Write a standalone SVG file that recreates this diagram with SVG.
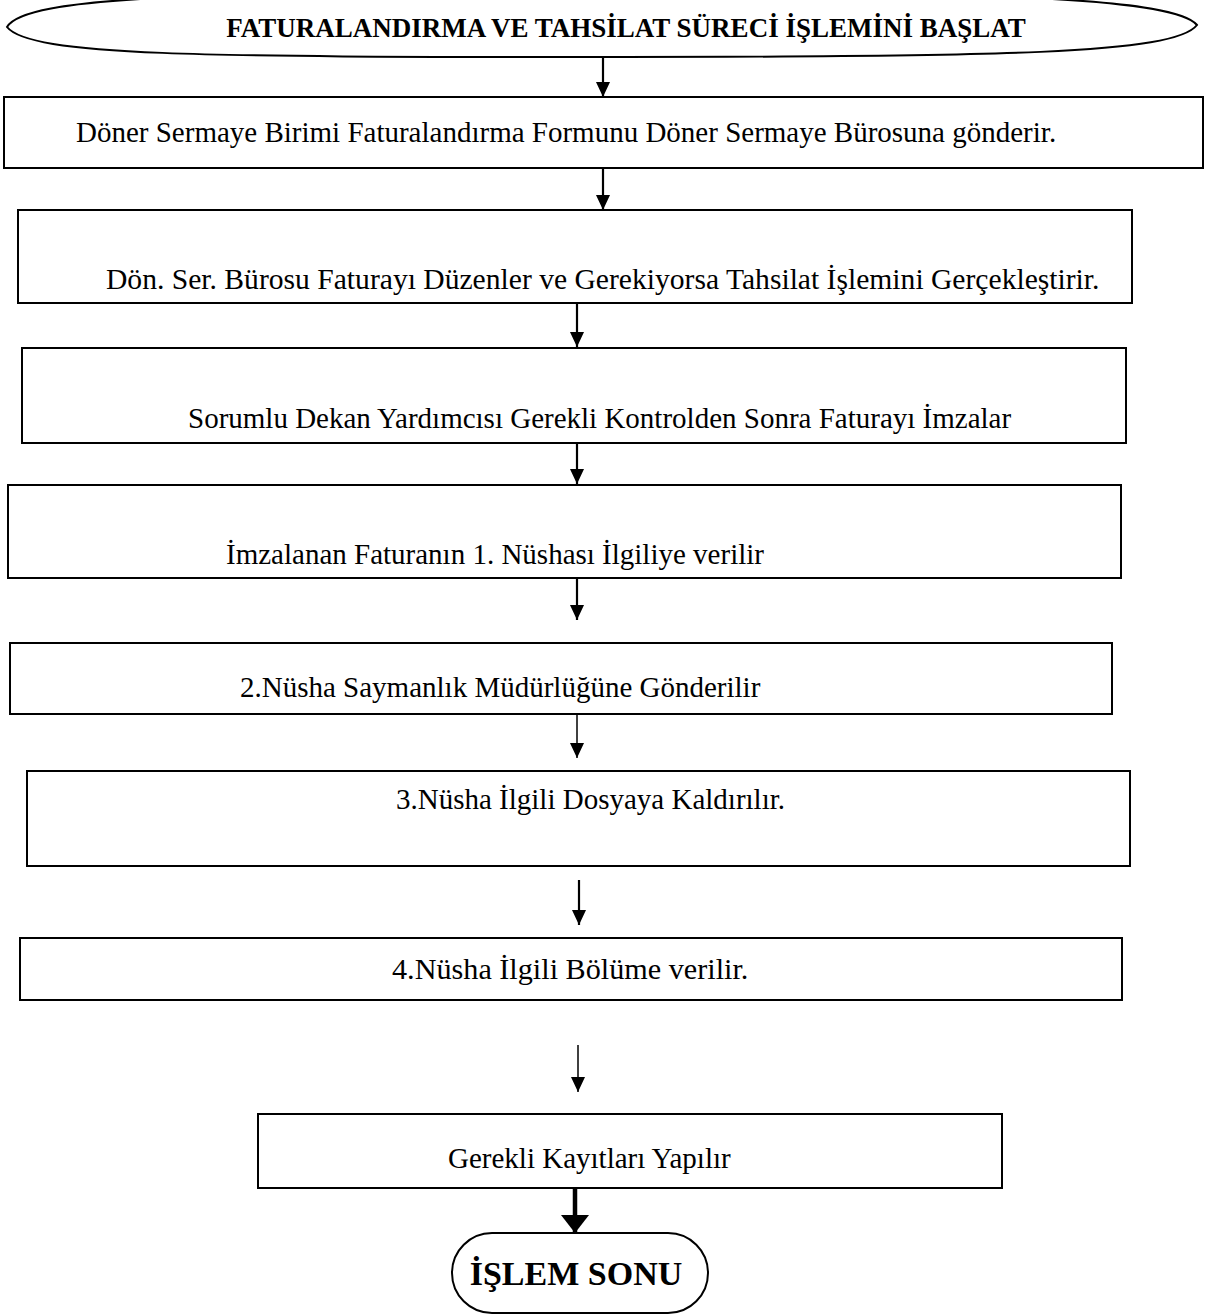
<svg xmlns="http://www.w3.org/2000/svg" width="1205" height="1315" viewBox="0 0 1205 1315">
  <style>
    .box { fill: #fff; stroke: #000; stroke-width: 2; }
    .txt { font-family: "Liberation Serif", "Times New Roman", serif; font-size: 29px; fill: #000; }
    .title { font-weight: bold; font-size: 27px; }
    .endtxt { font-weight: bold; font-size: 34px; }
    .ln { stroke: #000; stroke-width: 2.2; fill: none; }
    .thin { stroke-width: 1.5; }
    .thick { stroke-width: 4.5; }
  </style>
  <defs>
    <marker id="ah" viewBox="0 0 15 14" refX="15" refY="7" markerWidth="15" markerHeight="14" markerUnits="userSpaceOnUse" orient="auto">
      <path d="M0,0 L15,7 L0,14 Z" fill="#000"/>
    </marker>
    <marker id="ahBig" viewBox="0 0 18 28" refX="18" refY="14" markerWidth="18" markerHeight="28" markerUnits="userSpaceOnUse" orient="auto">
      <path d="M0,0 L18,14 L0,28 Z" fill="#000"/>
    </marker>
  </defs>

  <rect width="1205" height="1315" fill="#fff"/>

  <!-- start terminator: wide lens shape with pointed ends -->
  <g id="start">
    <path class="box" d="M7,27 C30,56 200,57 602,57 C1000,57 1175,54 1197,25 C1175,-2 1000,-8 602,-8 C200,-8 25,-4 7,27 Z"/>
    <text class="txt title" x="626" y="37" text-anchor="middle">FATURALANDIRMA VE TAHSİLAT SÜRECİ İŞLEMİNİ BAŞLAT</text>
  </g>

  <g id="step1">
    <rect class="box" x="4" y="97" width="1199" height="71"/>
    <text class="txt" x="76" y="142">Döner Sermaye Birimi Faturalandırma Formunu Döner Sermaye Bürosuna gönderir.</text>
  </g>

  <g id="step2">
    <rect class="box" x="18" y="210" width="1114" height="93"/>
    <text class="txt" x="106" y="289" style="font-size:29.6px">Dön. Ser. Bürosu Faturayı Düzenler ve Gerekiyorsa Tahsilat İşlemini Gerçekleştirir.</text>
  </g>

  <g id="step3">
    <rect class="box" x="22" y="348" width="1104" height="95"/>
    <text class="txt" x="188" y="428">Sorumlu Dekan Yardımcısı Gerekli Kontrolden Sonra Faturayı İmzalar</text>
  </g>

  <g id="step4">
    <rect class="box" x="8" y="485" width="1113" height="93"/>
    <text class="txt" x="226" y="564">İmzalanan Faturanın 1. Nüshası İlgiliye verilir</text>
  </g>

  <g id="step5">
    <rect class="box" x="10" y="643" width="1102" height="71"/>
    <text class="txt" x="240" y="697">2.Nüsha Saymanlık Müdürlüğüne Gönderilir</text>
  </g>

  <g id="step6">
    <rect class="box" x="27" y="771" width="1103" height="95"/>
    <text class="txt" x="396" y="809">3.Nüsha İlgili Dosyaya Kaldırılır.</text>
  </g>

  <g id="step7">
    <rect class="box" x="20" y="938" width="1102" height="62"/>
    <text class="txt" x="392" y="979" style="font-size:30.2px">4.Nüsha İlgili Bölüme verilir.</text>
  </g>

  <g id="step8">
    <rect class="box" x="258" y="1114" width="744" height="74"/>
    <text class="txt" x="448" y="1168">Gerekli Kayıtları Yapılır</text>
  </g>

  <g id="end">
    <rect class="box" x="452" y="1233" width="256" height="80" rx="40" ry="40"/>
    <text class="txt endtxt" x="576" y="1285" text-anchor="middle">İŞLEM SONU</text>
  </g>

  <g id="connectors">
    <line class="ln" x1="603" y1="57" x2="603" y2="97" marker-end="url(#ah)"/>
    <line class="ln" x1="603" y1="168" x2="603" y2="210" marker-end="url(#ah)"/>
    <line class="ln" x1="577" y1="303" x2="577" y2="347" marker-end="url(#ah)"/>
    <line class="ln" x1="577" y1="443" x2="577" y2="484" marker-end="url(#ah)"/>
    <line class="ln" x1="577" y1="578" x2="577" y2="620" marker-end="url(#ah)"/>
    <line class="ln thin" x1="577" y1="714" x2="577" y2="758" marker-end="url(#ah)"/>
    <line class="ln" x1="579" y1="880" x2="579" y2="925" marker-end="url(#ah)"/>
    <line class="ln thin" x1="578" y1="1045" x2="578" y2="1092" marker-end="url(#ah)"/>
    <line class="ln thick" x1="575" y1="1188" x2="575" y2="1233" marker-end="url(#ahBig)"/>
  </g>
</svg>
